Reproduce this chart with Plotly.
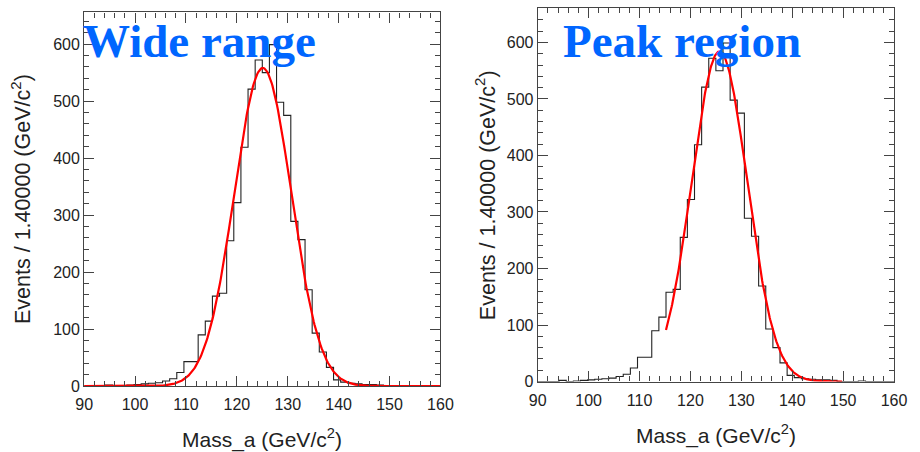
import numpy as np
import plotly.graph_objects as go

# ---- data ----
bin_low = 90.0
bin_width = 1.4
counts = [0, 0, 0, 2, 0, 1, 2, 3, 4, 5,
          6, 9, 13, 24, 43, 43, 90, 114, 158, 163,
          255, 322, 419, 521, 572, 550, 599, 498, 475, 289,
          257, 169, 93, 60, 33, 11, 7, 5, 4, 3,
          3, 2, 0, 0, 0, 1, 0, 0, 0, 0]

# Gaussian fit parameters
fit_wide = dict(amp=558.0, mean=125.1, sigma=5.6, xmin=90.0, xmax=160.0)
fit_peak = dict(amp=584.0, mean=125.7, sigma=5.45, xmin=115.2, xmax=149.8)

panel_titles = ["Wide range", "Peak region"]
x_title = "Mass_a (GeV/c<sup>2</sup>)"
y_title = "Events / 1.40000 (GeV/c<sup>2</sup>)"

W, H = 920, 452
# plot frames in pixels: (left, right, top, bottom)
frames = [(77, 442, 12.7, 394.0), (541.7, 906.7, 8.3, 389.3)]
yranges = [[0, 655.5], [0, 660.7]]

edges = [bin_low + bin_width * i for i in range(len(counts) + 1)]
hx = edges
hy = counts + [counts[-1]]

fig = go.Figure()

def gauss_curve(p):
    xs = np.linspace(p["xmin"], p["xmax"], 400)
    ys = p["amp"] * np.exp(-0.5 * ((xs - p["mean"]) / p["sigma"]) ** 2)
    return xs, ys

for i, fit in enumerate([fit_wide, fit_peak]):
    xa = "x" if i == 0 else "x2"
    ya = "y" if i == 0 else "y2"
    fig.add_trace(go.Scatter(x=hx, y=hy, mode="lines", line=dict(color="#222222", width=1.1, shape="hv"),
                             xaxis=xa, yaxis=ya, showlegend=False, hoverinfo="skip"))
    fx, fy = gauss_curve(fit)
    fig.add_trace(go.Scatter(x=fx, y=fy, mode="lines", line=dict(color="#ff0000", width=2.2),
                             xaxis=xa, yaxis=ya, showlegend=False, hoverinfo="skip"))

tickfont = dict(family="Liberation Sans, Arial, sans-serif", size=16, color="#222222")
axis_common = dict(showline=True, linecolor="#444444", linewidth=1.2, mirror="allticks",
                   ticks="inside", ticklen=10, tickwidth=1, tickcolor="#444444",
                   showgrid=False, zeroline=False, tickfont=tickfont)

layout = dict(width=W, height=H, margin=dict(l=0, r=0, t=0, b=0),
              paper_bgcolor="white", plot_bgcolor="white", showlegend=False)

title_x = [74, 566]
xt_y = [447, 443]
yt_x = [13, 488]

annotations = []
for i, (l, r, t, b) in enumerate(frames):
    suffix = "" if i == 0 else "2"
    xdom = [l / W, r / W]
    ydom = [1 - b / H, 1 - t / H]
    layout["xaxis" + suffix] = dict(domain=xdom, range=[90, 160], tick0=90, dtick=10,
                                    minor=dict(ticks="inside", ticklen=5, dtick=2, tickcolor="#444444"),
                                    anchor="y" + suffix, ticklabelstandoff=4, **axis_common)
    layout["yaxis" + suffix] = dict(domain=ydom, range=yranges[i], tick0=0, dtick=100,
                                    minor=dict(ticks="inside", ticklen=5, dtick=20, tickcolor="#444444"),
                                    anchor="x" + suffix, **axis_common)
    # panel title
    annotations.append(dict(text="<b>" + panel_titles[i] + "</b>", xref="paper", yref="paper",
                            x=title_x[i] / W, y=1 - 42 / H,
                            xanchor="left", yanchor="middle", showarrow=False,
                            font=dict(family="Liberation Serif, Times New Roman, serif", size=47,
                                      color="#0066ff")))
    # x axis title
    annotations.append(dict(text=x_title, xref="paper", yref="paper",
                            x=(l + r) / 2 / W, y=1 - xt_y[i] / H,
                            xanchor="center", yanchor="middle", showarrow=False,
                            font=dict(family="Liberation Sans, Arial, sans-serif", size=21, color="#222222")))
    # y axis title
    annotations.append(dict(text=y_title, xref="paper", yref="paper",
                            x=yt_x[i] / W, y=1 - (t + b) / 2 / H,
                            xanchor="center", yanchor="middle", textangle=-90, showarrow=False,
                            font=dict(family="Liberation Sans, Arial, sans-serif", size=21.5, color="#222222")))

layout["annotations"] = annotations
fig.update_layout(**layout)
fig.write_html("out.html")
